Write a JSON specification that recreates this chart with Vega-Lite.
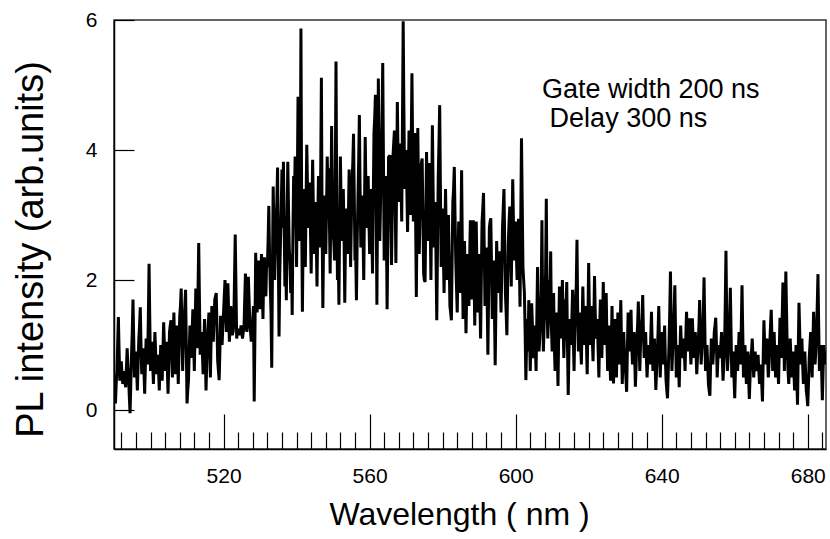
{
  "$schema": "https://vega.github.io/schema/vega-lite/v6.json",
  "width": 712,
  "height": 429,
  "autosize": "none",
  "padding": {"left": 114, "top": 20, "right": 4, "bottom": 90},
  "background": "white",
  "config": {
    "view": {"stroke": "#333", "strokeWidth": 1.5},
    "font": "Liberation Sans"
  },
  "datasets": {
    "spectrum": [
      {"w":490.0,"i":0.55},{"w":490.4,"i":0.10},{"w":490.8,"i":0.60},{"w":491.2,"i":1.43},{"w":491.6,"i":0.45},
      {"w":492.0,"i":0.75},{"w":492.4,"i":0.40},{"w":492.8,"i":0.60},{"w":493.2,"i":0.35},{"w":493.6,"i":0.95},
      {"w":494.0,"i":0.50},{"w":494.4,"i":-0.05},{"w":494.8,"i":0.85},{"w":495.2,"i":1.70},{"w":495.6,"i":0.50},
      {"w":496.0,"i":0.90},{"w":496.4,"i":0.30},{"w":496.8,"i":1.10},{"w":497.2,"i":1.58},{"w":497.6,"i":0.55},
      {"w":498.0,"i":0.95},{"w":498.4,"i":0.25},{"w":498.8,"i":1.10},{"w":499.2,"i":0.70},{"w":499.6,"i":2.25},
      {"w":500.0,"i":0.60},{"w":500.4,"i":1.05},{"w":500.8,"i":0.40},{"w":501.2,"i":1.20},{"w":501.6,"i":0.55},
      {"w":502.0,"i":0.85},{"w":502.4,"i":0.30},{"w":502.8,"i":1.00},{"w":503.2,"i":0.45},{"w":503.6,"i":1.35},
      {"w":504.0,"i":0.60},{"w":504.4,"i":1.05},{"w":504.8,"i":0.25},{"w":505.2,"i":1.20},{"w":505.6,"i":1.38},
      {"w":506.0,"i":0.50},{"w":506.4,"i":1.50},{"w":506.8,"i":0.55},{"w":507.2,"i":1.30},{"w":507.6,"i":0.40},
      {"w":508.0,"i":1.45},{"w":508.4,"i":1.87},{"w":508.8,"i":0.60},{"w":509.2,"i":1.40},{"w":509.6,"i":1.85},
      {"w":510.0,"i":0.10},{"w":510.4,"i":0.45},{"w":510.8,"i":1.30},{"w":511.2,"i":0.80},{"w":511.6,"i":1.55},
      {"w":512.0,"i":0.60},{"w":512.4,"i":1.87},{"w":512.8,"i":0.95},{"w":513.2,"i":2.57},{"w":513.6,"i":0.85},
      {"w":514.0,"i":1.20},{"w":514.4,"i":0.55},{"w":514.8,"i":1.40},{"w":515.2,"i":0.30},{"w":515.6,"i":1.10},
      {"w":516.0,"i":1.50},{"w":516.4,"i":0.50},{"w":516.8,"i":1.60},{"w":517.2,"i":1.05},{"w":517.6,"i":1.70},
      {"w":518.0,"i":1.80},{"w":518.4,"i":0.75},{"w":518.8,"i":0.46},{"w":519.2,"i":1.45},{"w":519.6,"i":1.00},
      {"w":520.0,"i":1.50},{"w":520.4,"i":2.00},{"w":520.8,"i":1.20},{"w":521.2,"i":1.95},{"w":521.6,"i":1.05},
      {"w":522.0,"i":1.60},{"w":522.4,"i":1.15},{"w":522.8,"i":1.30},{"w":523.2,"i":2.70},{"w":523.6,"i":1.10},
      {"w":524.0,"i":1.25},{"w":524.4,"i":1.15},{"w":524.8,"i":1.30},{"w":525.2,"i":1.10},{"w":525.6,"i":1.25},
      {"w":526.0,"i":2.10},{"w":526.4,"i":1.20},{"w":526.8,"i":2.05},{"w":527.2,"i":1.30},{"w":527.6,"i":1.05},
      {"w":528.0,"i":1.40},{"w":528.4,"i":0.13},{"w":528.8,"i":2.42},{"w":529.2,"i":1.50},{"w":529.6,"i":2.30},
      {"w":530.0,"i":1.55},{"w":530.4,"i":2.40},{"w":530.8,"i":1.40},{"w":531.2,"i":2.35},{"w":531.6,"i":1.75},
      {"w":532.0,"i":2.20},{"w":532.4,"i":3.14},{"w":532.8,"i":1.90},{"w":533.2,"i":0.65},{"w":533.6,"i":3.44},
      {"w":534.0,"i":2.00},{"w":534.4,"i":2.90},{"w":534.8,"i":3.73},{"w":535.2,"i":1.13},{"w":535.6,"i":2.60},
      {"w":536.0,"i":3.70},{"w":536.4,"i":3.82},{"w":536.8,"i":1.90},{"w":537.2,"i":1.69},{"w":537.6,"i":3.82},
      {"w":538.0,"i":2.50},{"w":538.4,"i":1.80},{"w":538.8,"i":1.46},{"w":539.2,"i":3.60},{"w":539.6,"i":3.90},
      {"w":540.0,"i":2.20},{"w":540.4,"i":4.82},{"w":540.8,"i":2.60},{"w":541.2,"i":5.87},{"w":541.6,"i":1.51},
      {"w":542.0,"i":3.40},{"w":542.4,"i":2.20},{"w":542.8,"i":4.08},{"w":543.2,"i":2.80},{"w":543.6,"i":3.50},
      {"w":544.0,"i":2.10},{"w":544.4,"i":3.85},{"w":544.8,"i":2.40},{"w":545.2,"i":3.20},{"w":545.6,"i":1.90},
      {"w":546.0,"i":3.60},{"w":546.4,"i":2.50},{"w":546.8,"i":5.11},{"w":547.2,"i":1.57},{"w":547.6,"i":3.30},
      {"w":548.0,"i":2.40},{"w":548.4,"i":3.90},{"w":548.8,"i":3.72},{"w":549.2,"i":2.10},{"w":549.6,"i":4.37},
      {"w":550.0,"i":2.70},{"w":550.4,"i":2.30},{"w":550.8,"i":5.36},{"w":551.2,"i":2.00},{"w":551.6,"i":1.62},
      {"w":552.0,"i":3.90},{"w":552.4,"i":2.60},{"w":552.8,"i":3.40},{"w":553.2,"i":1.65},{"w":553.6,"i":3.10},
      {"w":554.0,"i":2.40},{"w":554.4,"i":3.70},{"w":554.8,"i":2.20},{"w":555.2,"i":3.50},{"w":555.6,"i":4.25},
      {"w":556.0,"i":2.30},{"w":556.4,"i":1.69},{"w":556.8,"i":3.20},{"w":557.2,"i":4.54},{"w":557.6,"i":2.50},
      {"w":558.0,"i":3.30},{"w":558.4,"i":2.00},{"w":558.8,"i":4.20},{"w":559.2,"i":2.80},{"w":559.6,"i":3.60},
      {"w":560.0,"i":2.40},{"w":560.4,"i":3.40},{"w":560.8,"i":2.10},{"w":561.2,"i":4.26},{"w":561.6,"i":4.85},
      {"w":562.0,"i":1.62},{"w":562.4,"i":5.10},{"w":562.8,"i":2.60},{"w":563.2,"i":3.80},{"w":563.6,"i":5.34},
      {"w":564.0,"i":2.30},{"w":564.4,"i":3.60},{"w":564.8,"i":1.55},{"w":565.2,"i":3.90},{"w":565.6,"i":3.92},
      {"w":566.0,"i":2.23},{"w":566.4,"i":3.90},{"w":566.8,"i":4.30},{"w":567.2,"i":2.26},{"w":567.6,"i":4.74},
      {"w":568.0,"i":3.20},{"w":568.4,"i":4.10},{"w":568.8,"i":2.90},{"w":569.2,"i":5.98},{"w":569.6,"i":3.40},
      {"w":570.0,"i":4.00},{"w":570.4,"i":2.74},{"w":570.8,"i":4.30},{"w":571.2,"i":3.00},{"w":571.6,"i":5.18},
      {"w":572.0,"i":2.90},{"w":572.4,"i":4.26},{"w":572.8,"i":1.74},{"w":573.2,"i":4.34},{"w":573.6,"i":2.40},
      {"w":574.0,"i":3.70},{"w":574.4,"i":3.87},{"w":574.8,"i":2.10},{"w":575.2,"i":1.97},{"w":575.6,"i":3.97},
      {"w":576.0,"i":2.60},{"w":576.4,"i":3.80},{"w":576.8,"i":2.00},{"w":577.2,"i":4.38},{"w":577.6,"i":2.50},
      {"w":578.0,"i":3.20},{"w":578.4,"i":1.38},{"w":578.8,"i":3.60},{"w":579.2,"i":4.69},{"w":579.6,"i":2.20},
      {"w":580.0,"i":3.10},{"w":580.4,"i":1.80},{"w":580.8,"i":3.40},{"w":581.2,"i":2.00},{"w":581.6,"i":3.00},
      {"w":582.0,"i":1.60},{"w":582.4,"i":1.38},{"w":582.8,"i":3.20},{"w":583.2,"i":3.74},{"w":583.6,"i":2.30},
      {"w":584.0,"i":1.50},{"w":584.4,"i":2.90},{"w":584.8,"i":1.80},{"w":585.2,"i":3.69},{"w":585.6,"i":1.40},
      {"w":586.0,"i":2.60},{"w":586.4,"i":1.18},{"w":586.8,"i":2.40},{"w":587.2,"i":1.60},{"w":587.6,"i":2.92},
      {"w":588.0,"i":1.70},{"w":588.4,"i":2.92},{"w":588.8,"i":1.30},{"w":589.2,"i":2.90},{"w":589.6,"i":1.50},
      {"w":590.0,"i":2.40},{"w":590.4,"i":1.10},{"w":590.8,"i":2.90},{"w":591.2,"i":3.34},{"w":591.6,"i":1.60},
      {"w":592.0,"i":2.50},{"w":592.4,"i":0.85},{"w":592.8,"i":2.80},{"w":593.2,"i":2.95},{"w":593.6,"i":1.40},
      {"w":594.0,"i":2.30},{"w":594.4,"i":0.69},{"w":594.8,"i":2.60},{"w":595.2,"i":1.80},{"w":595.6,"i":2.44},
      {"w":596.0,"i":1.50},{"w":596.4,"i":2.80},{"w":596.8,"i":3.40},{"w":597.2,"i":1.80},{"w":597.6,"i":1.15},
      {"w":598.0,"i":2.60},{"w":598.4,"i":3.13},{"w":598.8,"i":1.90},{"w":599.2,"i":3.55},{"w":599.6,"i":2.30},
      {"w":600.0,"i":2.90},{"w":600.4,"i":2.00},{"w":600.8,"i":2.94},{"w":601.2,"i":1.59},{"w":601.6,"i":4.18},
      {"w":602.0,"i":2.20},{"w":602.4,"i":1.80},{"w":602.8,"i":0.46},{"w":603.2,"i":1.40},{"w":603.6,"i":1.69},
      {"w":604.0,"i":0.60},{"w":604.4,"i":1.64},{"w":604.8,"i":0.80},{"w":605.2,"i":1.30},{"w":605.6,"i":0.60},
      {"w":606.0,"i":2.20},{"w":606.4,"i":0.90},{"w":606.8,"i":1.35},{"w":607.2,"i":2.92},{"w":607.6,"i":0.90},
      {"w":608.0,"i":1.60},{"w":608.4,"i":3.25},{"w":608.8,"i":1.10},{"w":609.2,"i":2.00},{"w":609.6,"i":2.44},
      {"w":610.0,"i":0.90},{"w":610.4,"i":1.80},{"w":610.8,"i":0.60},{"w":611.2,"i":1.50},{"w":611.6,"i":0.37},
      {"w":612.0,"i":1.90},{"w":612.4,"i":1.10},{"w":612.8,"i":2.00},{"w":613.2,"i":0.80},{"w":613.6,"i":1.70},
      {"w":614.0,"i":1.97},{"w":614.4,"i":0.23},{"w":614.8,"i":1.40},{"w":615.2,"i":1.00},{"w":615.6,"i":1.85},
      {"w":616.0,"i":0.60},{"w":616.4,"i":1.70},{"w":616.8,"i":2.62},{"w":617.2,"i":0.90},{"w":617.6,"i":1.50},
      {"w":618.0,"i":0.70},{"w":618.4,"i":1.90},{"w":618.8,"i":1.00},{"w":619.2,"i":1.60},{"w":619.6,"i":0.55},
      {"w":620.0,"i":2.26},{"w":620.4,"i":1.00},{"w":620.8,"i":1.60},{"w":621.2,"i":0.75},{"w":621.6,"i":2.06},
      {"w":622.0,"i":1.10},{"w":622.4,"i":1.40},{"w":622.8,"i":0.50},{"w":623.2,"i":1.70},{"w":623.6,"i":0.80},
      {"w":624.0,"i":1.97},{"w":624.4,"i":1.00},{"w":624.8,"i":1.80},{"w":625.2,"i":0.60},{"w":625.6,"i":1.30},
      {"w":626.0,"i":0.45},{"w":626.4,"i":1.60},{"w":626.8,"i":0.41},{"w":627.2,"i":1.40},{"w":627.6,"i":0.50},
      {"w":628.0,"i":1.50},{"w":628.4,"i":0.70},{"w":628.8,"i":1.69},{"w":629.2,"i":0.40},{"w":629.6,"i":1.20},
      {"w":630.0,"i":0.70},{"w":630.4,"i":0.28},{"w":630.8,"i":1.50},{"w":631.2,"i":0.90},{"w":631.6,"i":1.54},
      {"w":632.0,"i":0.70},{"w":632.4,"i":1.20},{"w":632.8,"i":0.36},{"w":633.2,"i":1.10},{"w":633.6,"i":1.67},
      {"w":634.0,"i":0.60},{"w":634.4,"i":1.30},{"w":634.8,"i":1.77},{"w":635.2,"i":0.80},{"w":635.6,"i":1.20},
      {"w":636.0,"i":0.50},{"w":636.4,"i":1.00},{"w":636.8,"i":0.70},{"w":637.2,"i":1.51},{"w":637.6,"i":0.60},
      {"w":638.0,"i":1.10},{"w":638.4,"i":0.31},{"w":638.8,"i":0.90},{"w":639.2,"i":1.60},{"w":639.6,"i":0.50},
      {"w":640.0,"i":1.20},{"w":640.4,"i":0.70},{"w":640.8,"i":1.30},{"w":641.2,"i":0.45},{"w":641.6,"i":0.18},
      {"w":642.0,"i":1.00},{"w":642.4,"i":2.13},{"w":642.8,"i":0.60},{"w":643.2,"i":1.20},{"w":643.6,"i":1.92},
      {"w":644.0,"i":0.50},{"w":644.4,"i":1.00},{"w":644.8,"i":0.35},{"w":645.2,"i":1.30},{"w":645.6,"i":0.80},
      {"w":646.0,"i":1.10},{"w":646.4,"i":0.60},{"w":646.8,"i":1.51},{"w":647.2,"i":0.90},{"w":647.6,"i":1.41},
      {"w":648.0,"i":0.70},{"w":648.4,"i":1.41},{"w":648.8,"i":0.80},{"w":649.2,"i":1.20},{"w":649.6,"i":0.55},
      {"w":650.0,"i":1.00},{"w":650.4,"i":1.69},{"w":650.8,"i":0.70},{"w":651.2,"i":1.10},{"w":651.6,"i":2.04},
      {"w":652.0,"i":0.60},{"w":652.4,"i":1.00},{"w":652.8,"i":0.40},{"w":653.2,"i":0.22},{"w":653.6,"i":1.10},
      {"w":654.0,"i":0.70},{"w":654.4,"i":1.20},{"w":654.8,"i":1.42},{"w":655.2,"i":0.50},{"w":655.6,"i":1.00},
      {"w":656.0,"i":0.80},{"w":656.4,"i":1.20},{"w":656.8,"i":0.45},{"w":657.2,"i":0.90},{"w":657.6,"i":2.45},
      {"w":658.0,"i":0.60},{"w":658.4,"i":1.10},{"w":658.8,"i":1.88},{"w":659.2,"i":0.50},{"w":659.6,"i":0.90},
      {"w":660.0,"i":0.18},{"w":660.4,"i":1.00},{"w":660.8,"i":0.60},{"w":661.2,"i":1.20},{"w":661.6,"i":0.70},
      {"w":662.0,"i":1.92},{"w":662.4,"i":0.50},{"w":662.8,"i":1.00},{"w":663.2,"i":0.40},{"w":663.6,"i":0.90},
      {"w":664.0,"i":0.17},{"w":664.4,"i":0.80},{"w":664.8,"i":1.10},{"w":665.2,"i":0.50},{"w":665.6,"i":0.90},
      {"w":666.0,"i":0.60},{"w":666.4,"i":0.85},{"w":666.8,"i":0.40},{"w":667.2,"i":0.70},{"w":667.6,"i":0.13},
      {"w":668.0,"i":1.38},{"w":668.4,"i":0.70},{"w":668.8,"i":1.10},{"w":669.2,"i":0.50},{"w":669.6,"i":1.00},
      {"w":670.0,"i":1.54},{"w":670.4,"i":0.60},{"w":670.8,"i":1.20},{"w":671.2,"i":0.50},{"w":671.6,"i":1.00},
      {"w":672.0,"i":0.40},{"w":672.4,"i":1.42},{"w":672.8,"i":0.80},{"w":673.2,"i":1.96},{"w":673.6,"i":0.60},
      {"w":674.0,"i":2.13},{"w":674.4,"i":0.90},{"w":674.8,"i":0.40},{"w":675.2,"i":1.10},{"w":675.6,"i":0.50},
      {"w":676.0,"i":0.90},{"w":676.4,"i":0.30},{"w":676.8,"i":1.00},{"w":677.2,"i":0.08},{"w":677.6,"i":1.65},
      {"w":678.0,"i":0.70},{"w":678.4,"i":1.10},{"w":678.8,"i":0.40},{"w":679.2,"i":0.90},{"w":679.6,"i":0.30},
      {"w":680.0,"i":0.06},{"w":680.4,"i":0.80},{"w":680.8,"i":1.20},{"w":681.2,"i":0.50},{"w":681.6,"i":1.51},
      {"w":682.0,"i":0.70},{"w":682.4,"i":1.20},{"w":682.8,"i":2.09},{"w":683.2,"i":0.60},{"w":683.6,"i":1.00},
      {"w":684.0,"i":0.15},{"w":684.4,"i":1.00},{"w":684.8,"i":0.70},{"w":685.0,"i":0.90},
      {"w":490.2,"i":0.30},{"w":490.6,"i":0.40},{"w":491.0,"i":1.00},{"w":491.4,"i":0.90},{"w":491.8,"i":0.60},
      {"w":492.2,"i":0.55},{"w":492.6,"i":0.50},{"w":493.0,"i":0.45},{"w":493.4,"i":0.65},{"w":493.8,"i":0.70},
      {"w":494.2,"i":0.20},{"w":494.6,"i":0.40},{"w":495.0,"i":1.20},{"w":495.4,"i":1.10},{"w":495.8,"i":0.70},
      {"w":496.2,"i":0.60},{"w":496.6,"i":0.70},{"w":497.0,"i":1.30},{"w":497.4,"i":1.00},{"w":497.8,"i":0.75},
      {"w":498.2,"i":0.60},{"w":498.6,"i":0.70},{"w":499.0,"i":0.90},{"w":499.4,"i":1.40},{"w":499.8,"i":1.40},
      {"w":500.2,"i":0.80},{"w":500.6,"i":0.70},{"w":501.0,"i":0.80},{"w":501.4,"i":0.90},{"w":501.8,"i":0.70},
      {"w":502.2,"i":0.60},{"w":502.6,"i":0.65},{"w":503.0,"i":0.70},{"w":503.4,"i":0.90},{"w":503.8,"i":1.00},
      {"w":504.2,"i":0.80},{"w":504.6,"i":0.65},{"w":505.0,"i":0.70},{"w":505.4,"i":1.30},{"w":505.8,"i":0.90},
      {"w":506.2,"i":1.00},{"w":506.6,"i":1.00},{"w":507.0,"i":0.90},{"w":507.4,"i":0.85},{"w":507.8,"i":0.90},
      {"w":508.2,"i":1.60},{"w":508.6,"i":1.20},{"w":509.0,"i":1.00},{"w":509.4,"i":1.60},{"w":509.8,"i":1.00},
      {"w":510.2,"i":0.30},{"w":510.6,"i":0.90},{"w":511.0,"i":1.00},{"w":511.4,"i":1.20},{"w":511.8,"i":1.10},
      {"w":512.2,"i":1.20},{"w":512.6,"i":1.40},{"w":513.0,"i":1.80},{"w":513.4,"i":1.70},{"w":513.8,"i":1.00},
      {"w":514.2,"i":0.90},{"w":514.6,"i":1.00},{"w":515.0,"i":0.90},{"w":515.4,"i":0.70},{"w":515.8,"i":1.30},
      {"w":516.2,"i":1.00},{"w":516.6,"i":1.10},{"w":517.0,"i":1.30},{"w":517.4,"i":1.40},{"w":517.8,"i":1.75},
      {"w":518.2,"i":1.30},{"w":518.6,"i":0.60},{"w":519.0,"i":0.90},{"w":519.4,"i":1.20},{"w":519.8,"i":1.25},
      {"w":520.2,"i":1.75},{"w":520.6,"i":1.60},{"w":521.0,"i":1.55},{"w":521.4,"i":1.50},{"w":521.8,"i":1.30},
      {"w":522.2,"i":1.40},{"w":522.6,"i":1.20},{"w":523.0,"i":2.00},{"w":523.4,"i":1.90},{"w":523.8,"i":1.20},
      {"w":524.2,"i":1.20},{"w":524.6,"i":1.20},{"w":525.0,"i":1.20},{"w":525.4,"i":1.20},{"w":525.8,"i":1.70},
      {"w":526.2,"i":1.60},{"w":526.6,"i":1.60},{"w":527.0,"i":1.70},{"w":527.4,"i":1.20},{"w":527.8,"i":1.20},
      {"w":528.2,"i":1.60},{"w":528.6,"i":1.20},{"w":529.0,"i":1.90},{"w":529.4,"i":2.10},{"w":529.8,"i":1.70},
      {"w":530.2,"i":2.00},{"w":530.6,"i":1.90},{"w":531.0,"i":2.10},{"w":531.4,"i":1.80},{"w":531.8,"i":2.30},
      {"w":532.2,"i":2.60},{"w":532.6,"i":2.40},{"w":533.0,"i":1.50},{"w":533.4,"i":2.20},{"w":533.8,"i":2.70},
      {"w":534.2,"i":2.50},{"w":534.6,"i":3.20},{"w":535.0,"i":2.40},{"w":535.4,"i":2.10},{"w":535.8,"i":3.10},
      {"w":536.2,"i":2.80},{"w":536.6,"i":2.90},{"w":537.0,"i":2.40},{"w":537.4,"i":2.90},{"w":537.8,"i":3.10},
      {"w":538.2,"i":2.20},{"w":538.6,"i":2.40},{"w":539.0,"i":2.70},{"w":539.4,"i":3.00},{"w":539.8,"i":3.10},
      {"w":540.2,"i":3.40},{"w":540.6,"i":3.50},{"w":541.0,"i":3.30},{"w":541.4,"i":3.00},{"w":541.8,"i":2.70},
      {"w":542.2,"i":2.90},{"w":542.6,"i":3.20},{"w":543.0,"i":3.40},{"w":543.4,"i":3.10},{"w":543.8,"i":2.80},
      {"w":544.2,"i":3.00},{"w":544.6,"i":3.10},{"w":545.0,"i":2.80},{"w":545.4,"i":2.60},{"w":545.8,"i":2.90},
      {"w":546.2,"i":3.00},{"w":546.6,"i":3.60},{"w":547.0,"i":2.80},{"w":547.4,"i":2.60},{"w":547.8,"i":2.90},
      {"w":548.2,"i":3.10},{"w":548.6,"i":3.30},{"w":549.0,"i":2.90},{"w":549.4,"i":3.20},{"w":549.8,"i":3.40},
      {"w":550.2,"i":2.60},{"w":550.6,"i":3.50},{"w":551.0,"i":3.20},{"w":551.4,"i":2.50},{"w":551.8,"i":2.90},
      {"w":552.2,"i":3.20},{"w":552.6,"i":3.00},{"w":553.0,"i":2.70},{"w":553.4,"i":2.60},{"w":553.8,"i":2.90},
      {"w":554.2,"i":3.00},{"w":554.6,"i":3.10},{"w":555.0,"i":2.90},{"w":555.4,"i":3.80},{"w":555.8,"i":3.30},
      {"w":556.2,"i":2.40},{"w":556.6,"i":2.60},{"w":557.0,"i":3.80},{"w":557.4,"i":3.40},{"w":557.8,"i":2.90},
      {"w":558.2,"i":2.70},{"w":558.6,"i":3.10},{"w":559.0,"i":3.40},{"w":559.4,"i":3.20},{"w":559.8,"i":3.00},
      {"w":560.2,"i":2.90},{"w":560.6,"i":2.80},{"w":561.0,"i":3.20},{"w":561.4,"i":4.50},{"w":561.8,"i":3.20},
      {"w":562.2,"i":3.30},{"w":562.6,"i":3.90},{"w":563.0,"i":3.20},{"w":563.4,"i":4.40},{"w":563.8,"i":3.80},
      {"w":564.2,"i":3.00},{"w":564.6,"i":2.80},{"w":565.0,"i":2.70},{"w":565.4,"i":3.90},{"w":565.8,"i":3.10},
      {"w":566.2,"i":3.00},{"w":566.6,"i":4.10},{"w":567.0,"i":3.30},{"w":567.4,"i":3.50},{"w":567.8,"i":3.90},
      {"w":568.2,"i":3.70},{"w":568.6,"i":3.50},{"w":569.0,"i":4.40},{"w":569.4,"i":4.60},{"w":569.8,"i":3.70},
      {"w":570.2,"i":3.40},{"w":570.6,"i":3.50},{"w":571.0,"i":3.60},{"w":571.4,"i":4.10},{"w":571.8,"i":4.00},
      {"w":572.2,"i":3.60},{"w":572.6,"i":3.00},{"w":573.0,"i":3.00},{"w":573.4,"i":3.40},{"w":573.8,"i":3.00},
      {"w":574.2,"i":3.80},{"w":574.6,"i":3.00},{"w":575.0,"i":2.00},{"w":575.4,"i":3.00},{"w":575.8,"i":3.30},
      {"w":576.2,"i":3.20},{"w":576.6,"i":2.90},{"w":577.0,"i":3.20},{"w":577.4,"i":3.40},{"w":577.8,"i":2.80},
      {"w":578.2,"i":2.30},{"w":578.6,"i":2.50},{"w":579.0,"i":4.10},{"w":579.4,"i":3.40},{"w":579.8,"i":2.60},
      {"w":580.2,"i":2.40},{"w":580.6,"i":2.60},{"w":581.0,"i":2.70},{"w":581.4,"i":2.50},{"w":581.8,"i":2.30},
      {"w":582.2,"i":1.50},{"w":582.6,"i":2.30},{"w":583.0,"i":3.40},{"w":583.4,"i":3.00},{"w":583.8,"i":1.90},
      {"w":584.2,"i":2.20},{"w":584.6,"i":2.30},{"w":585.0,"i":2.70},{"w":585.4,"i":2.50},{"w":585.8,"i":2.00},
      {"w":586.2,"i":1.90},{"w":586.6,"i":1.80},{"w":587.0,"i":2.00},{"w":587.4,"i":2.30},{"w":587.8,"i":2.30},
      {"w":588.2,"i":2.30},{"w":588.6,"i":2.10},{"w":589.0,"i":2.10},{"w":589.4,"i":2.20},{"w":589.8,"i":1.90},
      {"w":590.2,"i":1.70},{"w":590.6,"i":2.00},{"w":591.0,"i":3.10},{"w":591.4,"i":2.50},{"w":591.8,"i":2.00},
      {"w":592.2,"i":1.70},{"w":592.6,"i":1.80},{"w":593.0,"i":2.90},{"w":593.4,"i":2.20},{"w":593.8,"i":1.80},
      {"w":594.2,"i":1.50},{"w":594.6,"i":1.60},{"w":595.0,"i":2.20},{"w":595.4,"i":2.10},{"w":595.8,"i":2.00},
      {"w":596.2,"i":2.10},{"w":596.6,"i":3.10},{"w":597.0,"i":2.60},{"w":597.4,"i":1.50},{"w":597.8,"i":1.90},
      {"w":598.2,"i":2.90},{"w":598.6,"i":2.50},{"w":599.0,"i":2.70},{"w":599.4,"i":2.90},{"w":599.8,"i":2.60},
      {"w":600.2,"i":2.40},{"w":600.6,"i":2.50},{"w":601.0,"i":2.30},{"w":601.4,"i":2.90},{"w":601.8,"i":3.20},
      {"w":602.2,"i":2.00},{"w":602.6,"i":1.20},
      {"w":603.0,"i":1.00},{"w":603.4,"i":0.90},{"w":603.8,"i":1.20},{"w":604.2,"i":1.10},{"w":604.6,"i":1.30},
      {"w":605.0,"i":0.90},{"w":605.4,"i":1.00},{"w":605.8,"i":1.40},{"w":606.2,"i":1.50},{"w":606.6,"i":1.10},
      {"w":607.0,"i":1.80},{"w":607.4,"i":1.60},{"w":607.8,"i":1.30},{"w":608.2,"i":2.10},{"w":608.6,"i":1.70},
      {"w":609.0,"i":1.40},{"w":609.4,"i":1.80},{"w":609.8,"i":1.30},{"w":610.2,"i":1.20},{"w":610.6,"i":1.00},
      {"w":611.0,"i":1.10},{"w":611.4,"i":0.90},{"w":611.8,"i":1.20},{"w":612.2,"i":1.50},{"w":612.6,"i":1.40},
      {"w":613.0,"i":1.30},{"w":613.4,"i":1.20},{"w":613.8,"i":1.60},{"w":614.2,"i":1.00},{"w":614.6,"i":0.90},
      {"w":615.0,"i":1.20},{"w":615.4,"i":1.40},{"w":615.8,"i":1.10},{"w":616.2,"i":1.20},{"w":616.6,"i":1.90},
      {"w":617.0,"i":1.50},{"w":617.4,"i":1.10},{"w":617.8,"i":1.00},{"w":618.2,"i":1.30},{"w":618.6,"i":1.40},
      {"w":619.0,"i":1.20},{"w":619.4,"i":1.00},{"w":619.8,"i":1.40},{"w":620.2,"i":1.50},{"w":620.6,"i":1.20},
      {"w":621.0,"i":1.10},{"w":621.4,"i":1.30},{"w":621.8,"i":1.50},{"w":622.2,"i":1.20},{"w":622.6,"i":0.90},
      {"w":623.0,"i":1.20},{"w":623.4,"i":1.10},{"w":623.8,"i":1.30},{"w":624.2,"i":1.40},{"w":624.6,"i":1.30},
      {"w":625.0,"i":1.10},{"w":625.4,"i":0.90},{"w":625.8,"i":0.80},{"w":626.2,"i":1.00},{"w":626.6,"i":0.90},
      {"w":627.0,"i":0.90},{"w":627.4,"i":0.90},{"w":627.8,"i":1.00},{"w":628.2,"i":1.10},{"w":628.6,"i":1.20},
      {"w":629.0,"i":1.00},{"w":629.4,"i":0.80},{"w":629.8,"i":0.90},{"w":630.2,"i":0.50},{"w":630.6,"i":0.90},
      {"w":631.0,"i":1.20},{"w":631.4,"i":1.20},{"w":631.8,"i":1.00},{"w":632.2,"i":0.90},{"w":632.6,"i":0.80},
      {"w":633.0,"i":0.70},{"w":633.4,"i":1.30},{"w":633.8,"i":1.10},{"w":634.2,"i":1.00},{"w":634.6,"i":1.40},
      {"w":635.0,"i":1.20},{"w":635.4,"i":1.00},{"w":635.8,"i":0.80},{"w":636.2,"i":0.80},{"w":636.6,"i":0.90},
      {"w":637.0,"i":1.10},{"w":637.4,"i":1.00},{"w":637.8,"i":0.90},{"w":638.2,"i":0.70},{"w":638.6,"i":0.60},
      {"w":639.0,"i":1.20},{"w":639.4,"i":1.00},{"w":639.8,"i":0.90},{"w":640.2,"i":0.90},{"w":640.6,"i":1.00},
      {"w":641.0,"i":0.80},{"w":641.4,"i":0.30},{"w":641.8,"i":0.60},{"w":642.2,"i":1.50},{"w":642.6,"i":1.30},
      {"w":643.0,"i":0.90},{"w":643.4,"i":1.50},{"w":643.8,"i":1.20},{"w":644.2,"i":0.80},{"w":644.6,"i":0.70},
      {"w":645.0,"i":0.90},{"w":645.4,"i":1.00},{"w":645.8,"i":0.90},{"w":646.2,"i":0.90},{"w":646.6,"i":1.10},
      {"w":647.0,"i":1.20},{"w":647.4,"i":1.10},{"w":647.8,"i":1.00},{"w":648.2,"i":1.00},{"w":648.6,"i":1.10},
      {"w":649.0,"i":1.00},{"w":649.4,"i":0.90},{"w":649.8,"i":0.80},{"w":650.2,"i":1.30},{"w":650.6,"i":1.20},
      {"w":651.0,"i":0.90},{"w":651.4,"i":1.50},{"w":651.8,"i":1.30},{"w":652.2,"i":0.80},{"w":652.6,"i":0.70},
      {"w":653.0,"i":0.30},{"w":653.4,"i":0.70},{"w":653.8,"i":0.90},{"w":654.2,"i":0.90},{"w":654.6,"i":1.30},
      {"w":655.0,"i":1.00},{"w":655.4,"i":0.80},{"w":655.8,"i":0.90},{"w":656.2,"i":1.00},{"w":656.6,"i":0.80},
      {"w":657.0,"i":0.70},{"w":657.4,"i":1.60},{"w":657.8,"i":1.50},{"w":658.2,"i":0.80},{"w":658.6,"i":1.40},
      {"w":659.0,"i":1.20},{"w":659.4,"i":0.70},{"w":659.8,"i":0.50},{"w":660.2,"i":0.60},{"w":660.6,"i":0.80},
      {"w":661.0,"i":0.90},{"w":661.4,"i":1.00},{"w":661.8,"i":1.30},{"w":662.2,"i":1.20},{"w":662.6,"i":0.70},
      {"w":663.0,"i":0.70},{"w":663.4,"i":0.60},{"w":663.8,"i":0.50},{"w":664.2,"i":0.50},{"w":664.6,"i":0.90},
      {"w":665.0,"i":0.80},{"w":665.4,"i":0.70},{"w":665.8,"i":0.70},{"w":666.2,"i":0.70},{"w":666.6,"i":0.60},
      {"w":667.0,"i":0.60},{"w":667.4,"i":0.40},{"w":667.8,"i":0.80},{"w":668.2,"i":1.00},{"w":668.6,"i":0.90},
      {"w":669.0,"i":0.80},{"w":669.4,"i":0.70},{"w":669.8,"i":1.30},{"w":670.2,"i":1.10},{"w":670.6,"i":0.90},
      {"w":671.0,"i":0.80},{"w":671.4,"i":0.70},{"w":671.8,"i":0.70},{"w":672.2,"i":0.90},{"w":672.6,"i":1.10},
      {"w":673.0,"i":1.40},{"w":673.4,"i":1.30},{"w":673.8,"i":1.40},{"w":674.2,"i":1.50},{"w":674.6,"i":0.60},
      {"w":675.0,"i":0.70},{"w":675.4,"i":0.80},{"w":675.8,"i":0.70},{"w":676.2,"i":0.60},{"w":676.6,"i":0.60},
      {"w":677.0,"i":0.50},{"w":677.4,"i":0.90},{"w":677.8,"i":1.20},{"w":678.2,"i":0.90},{"w":678.6,"i":0.70},
      {"w":679.0,"i":0.60},{"w":679.4,"i":0.60},{"w":679.8,"i":0.20},{"w":680.2,"i":0.40},{"w":680.6,"i":1.00},
      {"w":681.0,"i":0.80},{"w":681.4,"i":1.00},{"w":681.8,"i":1.10},{"w":682.2,"i":0.90},{"w":682.6,"i":1.60},
      {"w":683.0,"i":1.30},{"w":683.4,"i":0.80},{"w":683.8,"i":0.60},{"w":684.2,"i":0.60},{"w":684.6,"i":0.80}
    ],
    "notes": [
      {"t": "Gate width 200 ns", "w": 607.2, "i": 4.8},
      {"t": "Delay 300 ns", "w": 609.3, "i": 4.36}
    ]
  },
  "resolve": {"axis": {"x": "independent", "y": "independent"}},
  "layer": [
    {
      "data": {"name": "spectrum"},
      "mark": {"type": "line", "stroke": "black", "strokeWidth": 3, "strokeJoin": "bevel", "clip": true},
      "encoding": {
        "x": {
          "field": "w", "type": "quantitative",
          "scale": {"domain": [490, 685], "nice": false, "zero": false},
          "axis": {
            "orient": "bottom",
            "title": "Wavelength ( nm )",
            "values": [520, 560, 600, 640, 680],
            "format": "d",
            "grid": false,
            "domainColor": "black", "domainWidth": 1.5,
            "tickColor": "black", "tickWidth": 1.2, "tickSize": -35,
            "labelPadding": 51,
            "labelFontSize": 21, "labelColor": "black", "labelFont": "Liberation Sans",
            "titleFontSize": 32, "titleFontWeight": "normal", "titleColor": "black", "titleFont": "Liberation Sans",
            "titlePadding": 13, "titleX": 345
          }
        },
        "y": {
          "field": "i", "type": "quantitative",
          "scale": {"domain": [-0.6, 6], "nice": false, "zero": false},
          "axis": {
            "orient": "left",
            "title": "PL intensity (arb.units)",
            "values": [0, 2, 4, 6],
            "format": "d",
            "grid": false,
            "domainColor": "black", "domainWidth": 1.5,
            "tickColor": "black", "tickWidth": 1.2, "tickSize": -20,
            "labelPadding": 37,
            "labelFontSize": 21, "labelColor": "black", "labelFont": "Liberation Sans",
            "titleFontSize": 38, "titleFontWeight": "normal", "titleColor": "black", "titleFont": "Liberation Sans",
            "titleX": -64, "titleY": 229, "titleBaseline": "bottom", "titleAngle": 270
          }
        }
      }
    },
    {
      "data": {"name": "notes"},
      "mark": {"type": "text", "align": "left", "baseline": "alphabetic", "fontSize": 27, "font": "Liberation Sans", "color": "black"},
      "encoding": {
        "x": {
          "field": "w", "type": "quantitative",
          "scale": {"domain": [490, 685], "nice": false, "zero": false},
          "axis": {
            "orient": "bottom",
            "title": null,
            "values": [492,496,500,504,508,512,516,524,528,532,536,540,544,548,552,556,564,568,572,576,580,584,588,592,596,604,608,612,616,620,624,628,632,636,644,648,652,656,660,664,668,672,676,684],
            "labels": false,
            "domain": false,
            "grid": false,
            "tickColor": "black", "tickWidth": 1.2, "tickSize": -17
          }
        },
        "y": {
          "field": "i", "type": "quantitative",
          "scale": {"domain": [-0.6, 6], "nice": false, "zero": false},
          "axis": null
        },
        "text": {"field": "t"}
      }
    }
  ]
}
